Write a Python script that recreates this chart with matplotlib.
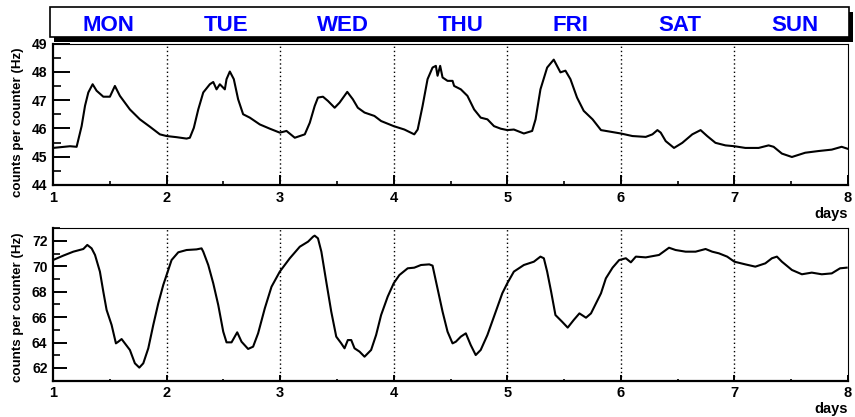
import matplotlib
matplotlib.use("Agg")
import matplotlib.pyplot as plt
from matplotlib.patches import Rectangle
from matplotlib.ticker import MultipleLocator
import numpy as np

plt.rcParams['font.family'] = ['Liberation Sans', 'DejaVu Sans']
plt.rcParams['font.weight'] = 'bold'

# ---------------- data ----------------
day_names = ["MON", "TUE", "WED", "THU", "FRI", "SAT", "SUN"]
day_label_x = [1.49, 2.52, 3.55, 4.59, 5.56, 6.52, 7.53]

top_days = [1.0, 1.15, 1.208, 1.252, 1.282, 1.311, 1.349, 1.384, 1.443, 1.501,
            1.545, 1.589, 1.677, 1.765, 1.853, 1.941, 2.0, 2.088, 2.176, 2.205,
            2.24, 2.279, 2.323, 2.381, 2.411, 2.44, 2.469, 2.513, 2.528, 2.557,
            2.592, 2.63, 2.674, 2.733, 2.821, 2.909, 2.997, 3.056, 3.129, 3.217,
            3.261, 3.304, 3.333, 3.377, 3.421, 3.48, 3.523, 3.591, 3.64, 3.684,
            3.743, 3.83, 3.889, 4.0, 4.094, 4.181, 4.211, 4.254, 4.298, 4.342,
            4.371, 4.386, 4.409, 4.43, 4.474, 4.518, 4.532, 4.591, 4.649, 4.708,
            4.766, 4.825, 4.883, 4.942, 5.0, 5.058, 5.146, 5.219, 5.249, 5.292,
            5.351, 5.409, 5.468, 5.512, 5.556, 5.614, 5.673, 5.751, 5.825, 5.927,
            6.0, 6.102, 6.219, 6.278, 6.322, 6.351, 6.395, 6.468, 6.541, 6.629,
            6.702, 6.76, 6.833, 6.921, 7.0, 7.096, 7.213, 7.301, 7.345, 7.418,
            7.506, 7.623, 7.74, 7.857, 7.944, 7.997]
top_rate = [45.31, 45.37, 45.35, 46.08, 46.8, 47.27, 47.56, 47.33, 47.12, 47.12,
            47.5, 47.15, 46.67, 46.32, 46.06, 45.79, 45.73, 45.69, 45.64, 45.67,
            46.02, 46.67, 47.27, 47.56, 47.64, 47.38, 47.56, 47.38, 47.74, 48.01,
            47.74, 47.03, 46.5, 46.38, 46.14, 45.99, 45.85, 45.91, 45.67, 45.79,
            46.2, 46.79, 47.09, 47.12, 46.97, 46.73, 46.91, 47.29, 47.03, 46.73,
            46.56, 46.44, 46.26, 46.08, 45.96, 45.79, 45.96, 46.79, 47.74, 48.15,
            48.21, 47.86, 48.21, 47.8, 47.68, 47.68, 47.5, 47.38, 47.15, 46.67,
            46.38, 46.32, 46.08, 45.99, 45.94, 45.96, 45.82, 45.91, 46.32, 47.38,
            48.15, 48.43, 47.98, 48.04, 47.74, 47.09, 46.62, 46.32, 45.94, 45.87,
            45.82, 45.73, 45.70, 45.79, 45.94, 45.85, 45.55, 45.31, 45.49, 45.79,
            45.94, 45.73, 45.49, 45.40, 45.37, 45.31, 45.31, 45.40, 45.35, 45.11,
            44.99, 45.14, 45.20, 45.25, 45.35, 45.28]

bot_days = [1.0, 1.091, 1.179, 1.267, 1.302, 1.34, 1.37, 1.413, 1.443, 1.472,
            1.516, 1.554, 1.575, 1.604, 1.633, 1.677, 1.721, 1.76, 1.795, 1.839,
            1.883, 1.927, 1.971, 2.0, 2.044, 2.103, 2.176, 2.264, 2.308, 2.323,
            2.367, 2.411, 2.455, 2.499, 2.528, 2.572, 2.622, 2.66, 2.718, 2.762,
            2.806, 2.865, 2.924, 2.997, 3.085, 3.173, 3.246, 3.29, 3.304, 3.333,
            3.363, 3.406, 3.45, 3.494, 3.538, 3.567, 3.596, 3.626, 3.655, 3.699,
            3.743, 3.801, 3.845, 3.889, 3.947, 4.0, 4.05, 4.123, 4.181, 4.24,
            4.313, 4.342, 4.386, 4.43, 4.474, 4.518, 4.547, 4.591, 4.635, 4.678,
            4.722, 4.766, 4.825, 4.898, 4.956, 5.0, 5.058, 5.146, 5.234, 5.292,
            5.322, 5.351, 5.386, 5.424, 5.482, 5.532, 5.585, 5.635, 5.693, 5.737,
            5.781, 5.825, 5.868, 5.927, 5.985, 6.044, 6.088, 6.132, 6.219, 6.336,
            6.424, 6.482, 6.57, 6.658, 6.746, 6.804, 6.863, 6.936, 7.0, 7.096,
            7.184, 7.272, 7.33, 7.374, 7.418, 7.506, 7.594, 7.681, 7.769, 7.857,
            7.93, 7.988]
bot_rate = [70.50, 70.85, 71.16, 71.37, 71.69, 71.42, 70.90, 69.59, 68.01, 66.57,
            65.39, 63.94, 64.07, 64.28, 63.94, 63.42, 62.37, 62.03, 62.37, 63.55,
            65.39, 67.09, 68.54, 69.32, 70.50, 71.11, 71.29, 71.34, 71.42, 71.16,
            70.11, 68.67, 66.96, 64.86, 64.02, 64.02, 64.81, 64.07, 63.50, 63.68,
            64.73, 66.70, 68.40, 69.59, 70.64, 71.55, 71.95, 72.34, 72.42, 72.21,
            71.16, 68.80, 66.44, 64.47, 63.94, 63.55, 64.20, 64.20, 63.55, 63.29,
            62.89, 63.42, 64.60, 66.17, 67.62, 68.67, 69.32, 69.85, 69.90, 70.11,
            70.16, 70.06, 68.27, 66.44, 64.86, 63.94, 64.07, 64.47, 64.73, 63.81,
            63.02, 63.42, 64.60, 66.44, 67.88, 68.67, 69.59, 70.11, 70.37, 70.77,
            70.64, 69.59, 68.01, 66.17, 65.65, 65.18, 65.78, 66.30, 65.96, 66.30,
            67.09, 67.88, 69.06, 69.90, 70.50, 70.64, 70.32, 70.77, 70.71, 70.90,
            71.47, 71.29, 71.16, 71.16, 71.37, 71.16, 71.03, 70.77, 70.37, 70.16,
            69.98, 70.24, 70.64, 70.77, 70.37, 69.72, 69.38, 69.51, 69.38, 69.45,
            69.85, 69.90]

xticks = [1, 2, 3, 4, 5, 6, 7, 8]
day_lines = [2, 3, 4, 5, 6, 7]
ylabel = "counts per counter (Hz)"
xlabel = "days"

# ---------------- figure ----------------
W, H = 855, 417
fig = plt.figure(figsize=(W / 100, H / 100), dpi=100)

def fx(px):
    return px / W

def fy(py):
    return 1 - py / H

# header box with shadow
bx0, bx1, by0, by1 = 49.5, 849, 7.5, 36.5
shadow = Rectangle((fx(bx0 + 4), fy(by1 + 5)), fx(bx1 - bx0), fy(by0) - fy(by1),
                   transform=fig.transFigure, facecolor='black', edgecolor='black', lw=0)
box = Rectangle((fx(bx0), fy(by1)), fx(bx1 - bx0), fy(by0) - fy(by1),
                transform=fig.transFigure, facecolor='white', edgecolor='black', lw=1.2)
fig.patches.extend([shadow, box])

ax1 = fig.add_axes([fx(53), fy(185), fx(848 - 53), fy(43.5) - fy(185)])
ax2 = fig.add_axes([fx(53), fy(380.7), fx(848 - 53), fy(228.3) - fy(380.7)])

for name, xc in zip(day_names, day_label_x):
    fig.text(fx(53 + (xc - 1) * (848 - 53) / 7), fy(25.5), name, color='#0000ff',
             fontsize=16, fontweight='bold', ha='center', va='center')


def style(ax, ylim, ymaj, ymin, ylen, xlen, label_y):
    ax.set_xlim(1, 8)
    ax.set_ylim(*ylim)
    ax.set_xticks(xticks)
    ax.xaxis.set_minor_locator(MultipleLocator(0.5))
    ax.yaxis.set_major_locator(MultipleLocator(ymaj))
    ax.yaxis.set_minor_locator(MultipleLocator(ymin))
    ax.tick_params(axis='y', which='major', direction='in', length=ylen[0], width=1.4,
                   labelsize=10, pad=4, right=False)
    ax.tick_params(axis='y', which='minor', direction='in', length=ylen[1], width=1.2,
                   right=False)
    ax.tick_params(axis='x', which='major', direction='in', length=xlen[0], width=1.4,
                   labelsize=10.5, pad=4, top=False)
    ax.tick_params(axis='x', which='minor', direction='in', length=xlen[1], width=1.2,
                   top=False)
    for lab in ax.get_xticklabels() + ax.get_yticklabels():
        lab.set_fontweight('bold')
    ax.spines['left'].set_linewidth(1.6)
    ax.spines['bottom'].set_linewidth(1.6)
    ax.spines['top'].set_linewidth(0.8)
    ax.spines['right'].set_linewidth(0.8)
    for d in day_lines:
        ax.axvline(d, color='black', linestyle=(0, (1, 2)), lw=1.0, zorder=1)
    ax.set_ylabel(ylabel, fontsize=9.6, fontweight='bold', loc='top')
    ax.yaxis.set_label_coords(-0.036, label_y)
    ax.annotate(xlabel, xy=(1.0, 0.0), xycoords='axes fraction',
                xytext=(0, -15.5), textcoords='offset points',
                ha='right', va='top', fontsize=10.5, fontweight='bold')


ax1.plot(top_days, top_rate, color='black', lw=1.5, zorder=3)
style(ax1, (44, 49), 1, 0.5, (12, 6), (7, 3), 0.975)

ax2.plot(bot_days, bot_rate, color='black', lw=1.5, zorder=3)
style(ax2, (61, 73), 2, 1, (10, 5), (4, 1.5), 0.975)

fig.savefig("out.png", dpi=100)
